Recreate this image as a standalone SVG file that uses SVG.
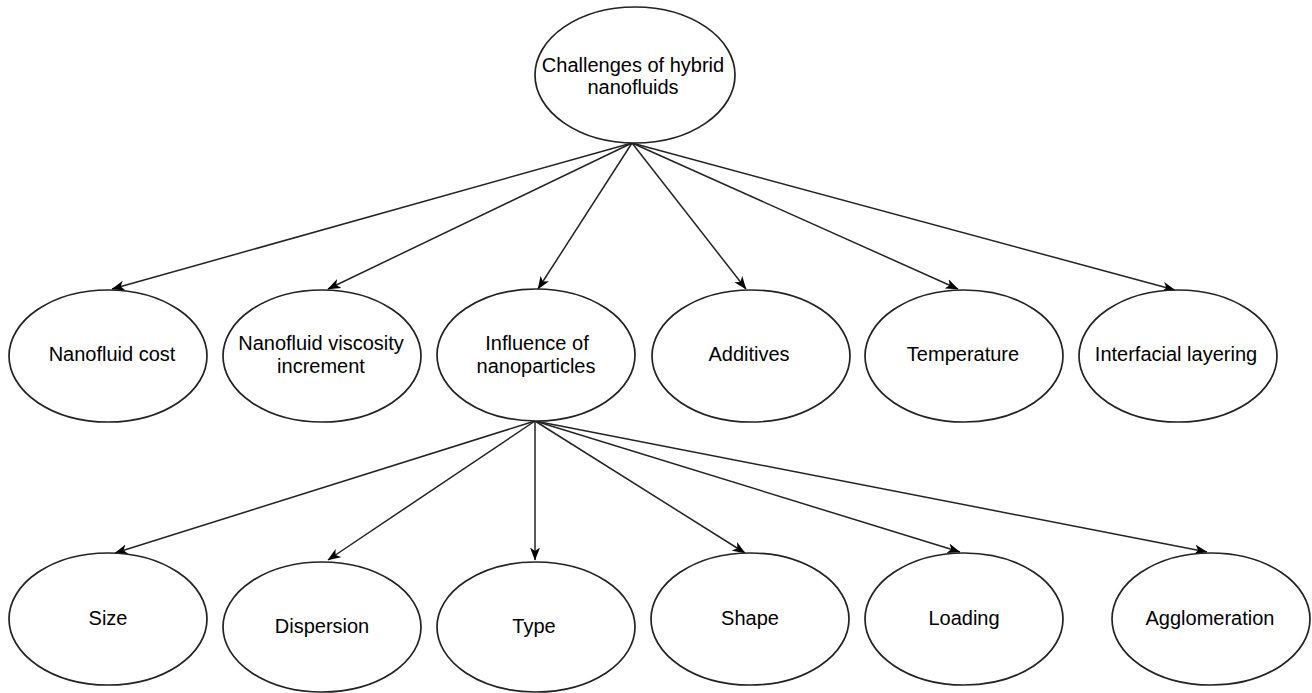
<svg xmlns="http://www.w3.org/2000/svg" width="1312" height="693" viewBox="0 0 1312 693">
<style>
.n ellipse{fill:#fff;stroke:#222;stroke-width:1.7}
.n text{font-family:"Liberation Sans",Arial,Helvetica,sans-serif;font-size:20px;fill:#000;text-anchor:middle}
.e line{stroke:#222;stroke-width:1.5;marker-end:url(#ah)}
</style>
<defs>
<marker id="ah" markerUnits="userSpaceOnUse" viewBox="0 0 13 11" refX="12.5" refY="5.5" markerWidth="13" markerHeight="11" orient="auto">
<path d="M0,0.5 L13,5.5 L0,10.5 L3.5,5.5 Z" fill="#000"/>
</marker>
</defs>
<rect width="1312" height="693" fill="#fff"/>
<g id="edges" class="e">
<line x1="632" y1="143" x2="112" y2="289"/>
<line x1="632" y1="143" x2="328" y2="289"/>
<line x1="632" y1="143" x2="538" y2="289"/>
<line x1="632" y1="143" x2="746" y2="289"/>
<line x1="632" y1="143" x2="958" y2="289"/>
<line x1="632" y1="143" x2="1175" y2="290"/>
<line x1="535" y1="421" x2="115" y2="553"/>
<line x1="535" y1="421" x2="328" y2="560"/>
<line x1="535" y1="421" x2="535" y2="560"/>
<line x1="535" y1="421" x2="745" y2="553"/>
<line x1="535" y1="421" x2="960" y2="552"/>
<line x1="535" y1="421" x2="1207" y2="552"/>
</g>
<g id="root" class="n"><ellipse cx="635" cy="75" rx="100" ry="68"/><text x="633" y="72">Challenges of hybrid</text><text x="633" y="94">nanofluids</text></g>
<g id="cost" class="n"><ellipse cx="108" cy="356" rx="99" ry="66"/><text x="112" y="361">Nanofluid cost</text></g>
<g id="viscosity" class="n"><ellipse cx="322" cy="356" rx="99" ry="66"/><text x="321" y="350">Nanofluid viscosity</text><text x="321" y="373">increment</text></g>
<g id="influence" class="n"><ellipse cx="536" cy="355" rx="99" ry="66"/><text x="537" y="350">Influence of</text><text x="536" y="373">nanoparticles</text></g>
<g id="additives" class="n"><ellipse cx="751" cy="356" rx="99" ry="66"/><text x="749" y="361">Additives</text></g>
<g id="temperature" class="n"><ellipse cx="964" cy="356" rx="99" ry="66"/><text x="963" y="361">Temperature</text></g>
<g id="interfacial" class="n"><ellipse cx="1178" cy="356" rx="99" ry="66"/><text x="1176" y="361">Interfacial layering</text></g>
<g id="size" class="n"><ellipse cx="108" cy="619" rx="99" ry="66"/><text x="108" y="625">Size</text></g>
<g id="dispersion" class="n"><ellipse cx="322" cy="627" rx="99" ry="65"/><text x="322" y="633">Dispersion</text></g>
<g id="type" class="n"><ellipse cx="536" cy="627" rx="99" ry="65"/><text x="534" y="633">Type</text></g>
<g id="shape" class="n"><ellipse cx="750" cy="619" rx="99" ry="66"/><text x="750" y="625">Shape</text></g>
<g id="loading" class="n"><ellipse cx="964" cy="619" rx="99" ry="66"/><text x="964" y="625">Loading</text></g>
<g id="agglomeration" class="n"><ellipse cx="1211" cy="619" rx="99" ry="66"/><text x="1210" y="625">Agglomeration</text></g>
</svg>
